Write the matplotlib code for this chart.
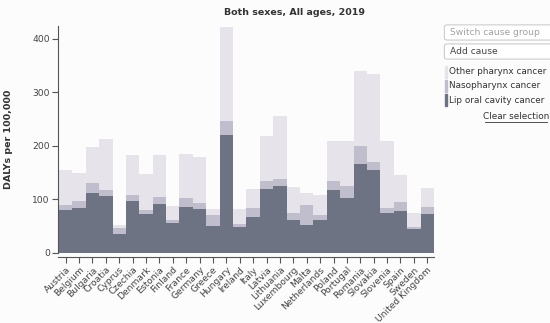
import matplotlib.pyplot as plt
import numpy as np
from matplotlib.patches import FancyBboxPatch

countries = ["Austria", "Belgium", "Bulgaria", "Croatia", "Cyprus", "Czechia",
             "Denmark", "Estonia", "Finland", "France", "Germany", "Greece",
             "Hungary", "Ireland", "Italy", "Latvia", "Lithuania", "Luxembourg",
             "Malta", "Netherlands", "Poland", "Portugal", "Romania", "Slovakia",
             "Slovenia", "Spain", "Sweden", "United Kingdom"]
lip_oral = [79, 83.5, 112, 106, 35.5, 96.5, 73, 91, 56, 86, 82, 50.5,
            220, 47, 67.3, 120, 125, 61, 52.5, 61, 118, 103, 165, 154.5,
            75, 78, 43.6, 73]
nasopharynx = [9.5, 13.5, 19, 11, 10, 10.5, 7, 13, 5, 17, 11.5, 20.5,
               26.7, 6, 16, 14, 12, 14, 36, 10, 16, 22, 34, 14.5,
               8, 17, 3.4, 12]
other_pharynx = [66, 52.5, 66, 96, 6.5, 75.5, 68, 78.5, 26, 81.5, 86, 11,
                 175, 28, 36, 84, 118, 48, 24, 37, 75, 84.5, 140.6, 165,
                 126, 50, 26.5, 36.5]

c_lip = "#6e7384"
c_naso = "#c0bdcc"
c_other = "#e6e3ea"
bg = "#fdfcfc"

fig = plt.figure(figsize=(5.5, 3.23), dpi=100, facecolor=bg)
ax = fig.add_axes([0.106, 0.218, 0.683, 0.701], facecolor=bg)

# spine position first: moving it resets the tick settings
for s in ["top", "right"]:
    ax.spines[s].set_visible(False)
ax.spines["bottom"].set_position(("outward", 3))
ax.spines["left"].set_color("#555555")
ax.spines["bottom"].set_color("#555555")
ax.spines["left"].set_linewidth(0.8)
ax.spines["bottom"].set_linewidth(0.8)

x = np.arange(len(countries))
lip = np.array(lip_oral)
naso = np.array(nasopharynx)
oth = np.array(other_pharynx)
ax.bar(x, lip, width=1.0, color=c_lip, linewidth=0)
ax.bar(x, naso, width=1.0, bottom=lip, color=c_naso, linewidth=0)
ax.bar(x, oth, width=1.0, bottom=lip + naso, color=c_other, linewidth=0)

ax.set_xlim(-0.55, len(countries) - 0.5)
ax.set_ylim(0, 424)
ax.set_yticks([0, 100, 200, 300, 400])
ax.set_xticks(x)
ax.tick_params(axis="both", colors="#555555", labelcolor="#444444",
               labelsize=6.6, length=4, width=0.8, pad=2)
ax.set_xticklabels(countries, rotation=45, ha="right", rotation_mode="anchor")

ax.set_ylabel("DALYs per 100,000", fontsize=6.8, fontweight="bold", color="#333333", labelpad=14)
fig.text(0.536, 0.962, "Both sexes, All ages, 2019", ha="center", va="center",
         fontsize=6.8, fontweight="bold", color="#333333")

# side panel
for y0, label, col in [(0.876, "Switch cause group", "#a0a0a0"), (0.817, "Add cause", "#444444")]:
    box = FancyBboxPatch((0.808, y0), 0.2, 0.047, boxstyle="round,pad=0,rounding_size=0.006",
                         transform=fig.transFigure, facecolor="white", edgecolor="#cccccc", linewidth=0.8)
    fig.patches.append(box)
    fig.text(0.818, y0 + 0.0235, label, ha="left", va="center", fontsize=6.6, color=col)

legend_items = [("Other pharynx cancer", c_other), ("Nasopharynx cancer", c_naso),
                ("Lip oral cavity cancer", c_lip)]
for i, (label, col) in enumerate(legend_items):
    yy = 0.778 - i * 0.044
    fig.patches.append(plt.Rectangle((0.809, yy - 0.019), 0.004, 0.038,
                                     transform=fig.transFigure, color=col))
    fig.text(0.816, yy, label, ha="left", va="center", fontsize=6.4, color="#333333")

fig.text(0.938, 0.639, "Clear selection", ha="center", va="center", fontsize=6.4, color="#333333")
fig.add_artist(plt.Line2D([0.881, 0.995], [0.621, 0.621], transform=fig.transFigure,
                          color="#333333", linewidth=0.6))

fig.savefig("out.png", dpi=100, facecolor=bg)
